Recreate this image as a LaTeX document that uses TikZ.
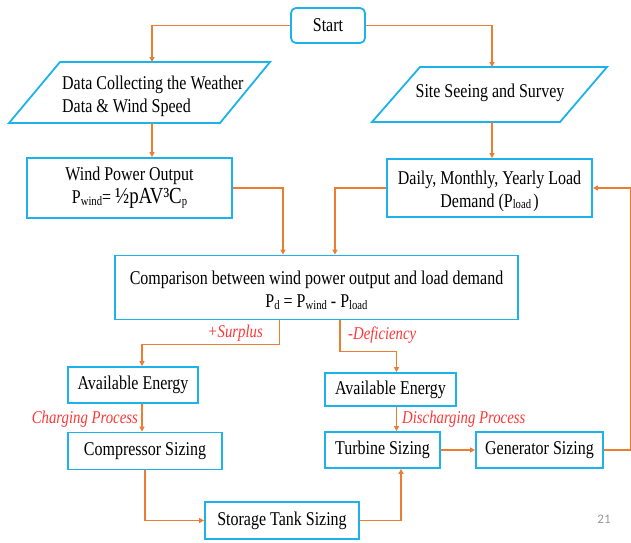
\documentclass[tikz,border=0pt]{standalone}
\usepackage{fontspec}
\setmainfont{Liberation Serif}[FakeStretch=0.82]
\newfontfamily\pagefont{Carlito}
\usetikzlibrary{arrows.meta,calc}
\definecolor{boxblue}{HTML}{1CB2EC}
\definecolor{lineorange}{HTML}{ED7D31}
\definecolor{labred}{HTML}{FF3636}
\definecolor{pagegray}{HTML}{9A9A9A}
\newcommand\lsub[1]{\raisebox{-1.5pt}{\fontsize{13}{13}\selectfont #1}}
\newcommand\lowtext[2]{\raisebox{0pt}[\dimexpr\height+#1\relax][\depth]{\begin{tabular}{@{}c@{}}#2\end{tabular}}}
\tikzset{
  box/.style={draw=boxblue, line width=1.8pt, inner sep=0pt, align=center,
    font=\fontsize{19.5}{23}\selectfont},
  para/.style={draw=boxblue, line width=1.8pt, line join=miter},
  ptext/.style={inner sep=0pt, font=\fontsize{19.5}{23}\selectfont},
  conn/.style={draw=lineorange, line width=1.6pt,
    -{Triangle[length=5pt,width=5pt]}},
  lab/.style={text=labred, inner sep=0pt, font=\fontsize{18}{20}\selectfont\itshape},
}
\begin{document}
\begin{tikzpicture}[x=1pt,y=-1pt]
\useasboundingbox (0,0) rectangle (631,542);
\fill[white] (0,0) rectangle (631,542);

% nodes
\node[box, rounded corners=5pt, minimum width=74pt, minimum height=35pt] (start) at (328,25.5) {Start};

\draw[para] (60,62) -- (270,62) -- (220,123) -- (9,123) -- cycle;
\node[ptext, align=left, anchor=west] (data) at (62,96) {Data Collecting the Weather\\Data \& Wind Speed};
\coordinate (dataT) at (152,62);
\coordinate (dataB) at (152,123);

\draw[para] (420,67) -- (607,67) -- (560,122) -- (372,122) -- cycle;
\node[ptext] (site) at (490,93) {Site Seeing and Survey};
\coordinate (siteT) at (492,67);
\coordinate (siteB) at (492,122);

\node[box, minimum width=205pt, minimum height=60pt] (wind) at (129.5,188)
  {Wind Power Output\\P\lsub{wind}= {\fontsize{23}{23}\selectfont ½pAV³C\lsub{p}}};
\node[box, minimum width=205pt, minimum height=58pt] (daily) at (489.5,188)
  {\lowtext{6pt}{Daily, Monthly, Yearly Load\\Demand (P\lsub{load\,})}};

\node[box, minimum width=403pt, minimum height=64pt] (comp) at (316.5,287.5)
  {\lowtext{8pt}{Comparison between wind power output and load demand\\P\lsub{d} = P\lsub{wind} - P\lsub{load}}};

\node[box, minimum width=130pt, minimum height=36pt] (availL) at (133,385) {Available Energy};
\node[box, minimum width=131pt, minimum height=33pt] (availR) at (390.5,389.5) {Available Energy};
\node[box, minimum width=154pt, minimum height=37pt] (compr) at (145,451) {Compressor Sizing};
\node[box, minimum width=115pt, minimum height=36pt] (turb) at (382.5,450) {Turbine Sizing};
\node[box, minimum width=127pt, minimum height=36pt] (gen) at (539.5,450) {Generator Sizing};
\node[box, minimum width=154pt, minimum height=37pt] (tank) at (282,520.5) {Storage Tank Sizing};

% anchor coordinates
\coordinate (cinL) at ($(comp.north)+(-33.5,0)$);
\coordinate (cinR) at ($(comp.north)+(18.5,0)$);
\coordinate (sOut) at ($(comp.south)+(-37,0)$);
\coordinate (dOut) at ($(comp.south)+(23.5,0)$);
\coordinate (aLin) at ($(availL.north)+(9,0)$);
\coordinate (aRin) at ($(availR.north)+(6,0)$);
\coordinate (tIn) at ($(turb.south)+(18.5,0)$);

% connectors
\draw[conn] (start.west) -| (dataT);
\draw[conn] (start.east) -| (siteT);
\draw[conn] (dataB) -- (dataB |- wind.north);
\draw[conn] (siteB) -- (siteB |- daily.north);
\draw[conn] (wind.east) -| (cinL);
\draw[conn] (daily.west) -| (cinR);
\draw[conn] (sOut) -- ++(0,24) -| (aLin);
\draw[conn] (dOut) -- ++(0,31) -| (aRin);
\draw[conn] (aLin |- availL.south) -- (aLin |- compr.north);
\draw[conn] (aRin |- availR.south) -- (aRin |- turb.north);
\draw[conn] (turb.east) -- (gen.west);
\draw[conn] (gen.east) -- ++(27,0) |- (daily.east);
\draw[conn] (compr.south) |- (tank.west);
\draw[conn] (tank.east) -| (tIn);

% labels
\node[lab, anchor=east] (surplus) at (263,333) {+Surplus};
\node[lab, anchor=west] (defic) at (348,335) {-Deficiency};
\node[lab, anchor=east] (charg) at (138,419) {Charging Process};
\node[lab, anchor=west] (discharg) at (402,419) {Discharging Process};
\node[text=pagegray, inner sep=0pt, font=\pagefont\fontsize{13}{14}\selectfont] (page) at (604,519) {21};
\end{tikzpicture}
\end{document}
